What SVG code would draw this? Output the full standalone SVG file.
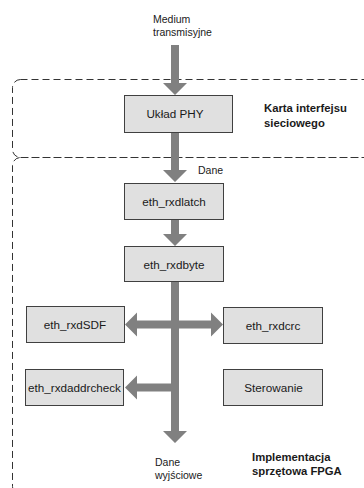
<svg xmlns="http://www.w3.org/2000/svg" width="364" height="488" viewBox="0 0 364 488">
<style>
.box{fill:#e0e0e0;stroke:#404040;stroke-width:1}
.lbl{font-family:"Liberation Sans",Arial,sans-serif;font-size:11.7px;fill:#1a1a1a;text-anchor:middle}
.side{font-family:"Liberation Sans",Arial,sans-serif;font-size:10.5px;fill:#1a1a1a}
.bold{font-family:"Liberation Sans",Arial,sans-serif;font-size:11.3px;font-weight:bold;fill:#1a1a1a}
.region{fill:none;stroke:#333;stroke-width:1;stroke-dasharray:7 4}
.arrow{fill:#808080;stroke:none}
</style>
<rect width="364" height="488" fill="#ffffff"/>
<g id="regions">
<rect class="region" x="12.5" y="79.5" width="400" height="78" rx="8" ry="8"/>
<rect class="region" x="12.5" y="157.5" width="400" height="337" rx="8" ry="8"/>
</g>
<g id="connectors">
<polygon class="arrow" points="171,45 179,45 179,83 187,83 175,95 163,83 171,83"/>
<polygon class="arrow" points="171,133 179,133 179,170 187,170 175,182 163,170 171,170"/>
<polygon class="arrow" points="171,220 179,220 179,234 187,234 175,246 163,234 171,234"/>
<polygon class="arrow" points="171,282 179,282 179,431 187,431 175,443 163,431 171,431"/>
<polygon class="arrow" points="137,320.5 211,320.5 211,312.5 223,324.5 211,336.5 211,328.5 137,328.5 137,336.5 125,324.5 137,312.5"/>
<polygon class="arrow" points="171,383.5 137,383.5 137,375.5 125,387.5 137,399.5 137,391.5 171,391.5"/>
</g>
<g id="phy"><rect class="box" x="124.5" y="95.5" width="108" height="37"/><text class="lbl" x="175" y="118">Układ PHY</text></g>
<g id="eth_rxdlatch"><rect class="box" x="124.5" y="183.5" width="99" height="36"/><text class="lbl" x="174" y="206">eth_rxdlatch</text></g>
<g id="eth_rxdbyte"><rect class="box" x="124.5" y="246.5" width="99" height="35"/><text class="lbl" x="174" y="268.5">eth_rxdbyte</text></g>
<g id="eth_rxdSDF"><rect class="box" x="26.5" y="306.5" width="98" height="36"/><text class="lbl" x="75" y="328.5">eth_rxdSDF</text></g>
<g id="eth_rxdcrc"><rect class="box" x="223.5" y="307.5" width="99" height="36"/><text class="lbl" x="273" y="329.5">eth_rxdcrc</text></g>
<g id="eth_rxdaddrcheck"><rect class="box" x="25.5" y="369.5" width="98" height="36"/><text class="lbl" x="74.5" y="391.5">eth_rxdaddrcheck</text></g>
<g id="sterowanie"><rect class="box" x="223.5" y="369.5" width="99" height="36"/><text class="lbl" x="273.5" y="391.5">Sterowanie</text></g>
<g id="labels">
<text class="side" x="153" y="23">Medium</text>
<text class="side" x="153" y="36">transmisyjne</text>
<text class="side" x="198" y="174">Dane</text>
<text class="side" x="155" y="466">Dane</text>
<text class="side" x="155" y="479">wyjściowe</text>
<text class="bold" x="264" y="112">Karta interfejsu</text>
<text class="bold" x="264" y="127">sieciowego</text>
<text class="bold" x="252" y="461">Implementacja</text>
<text class="bold" x="252" y="475">sprzętowa FPGA</text>
</g>
</svg>
